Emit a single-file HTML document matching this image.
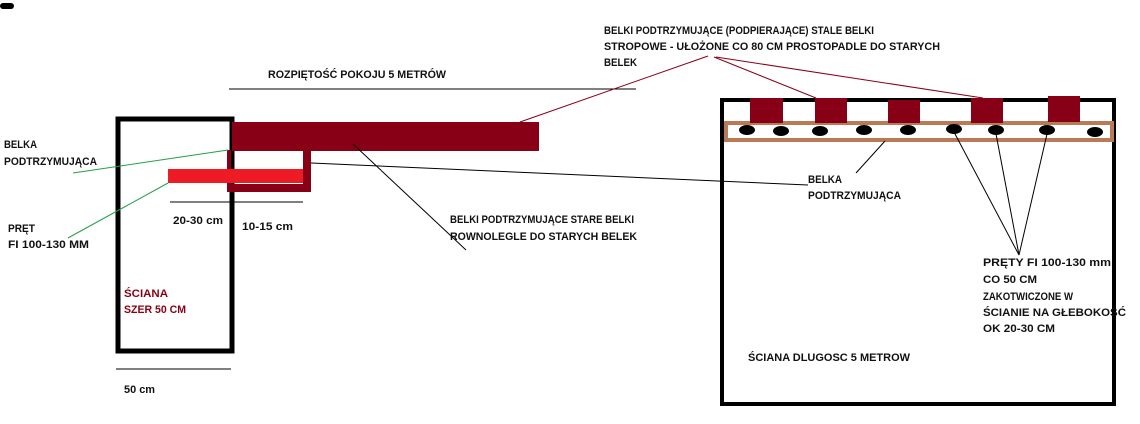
<!DOCTYPE html>
<html><head><meta charset="utf-8"><style>body{margin:0;background:#fff}svg{display:block}text{font-family:"Liberation Sans",sans-serif;font-size:11px;font-weight:bold;fill:#111}</style></head><body>
<svg width="1140" height="424" viewBox="0 0 1140 424" xmlns="http://www.w3.org/2000/svg">
<rect x="0" y="3" width="14" height="6" rx="3" fill="#000"/>
<rect x="118" y="119" width="114" height="232" fill="none" stroke="#000" stroke-width="5"/>
<rect x="232" y="122" width="307" height="29" fill="#880015"/>
<rect x="303" y="150" width="8" height="42" fill="#880015"/>
<rect x="227" y="184" width="84" height="8" fill="#880015"/>
<rect x="227" y="150" width="4" height="42" fill="#880015"/>
<rect x="168" y="169" width="135" height="14" fill="#ed1c24"/>
<line x1="73" y1="173" x2="228" y2="150" stroke="#22a04a" stroke-width="1"/>
<line x1="68" y1="238" x2="168" y2="183" stroke="#22a04a" stroke-width="1"/>
<line x1="170" y1="202" x2="303" y2="202" stroke="#000"/>
<line x1="229" y1="89" x2="636" y2="89" stroke="#000"/>
<line x1="116" y1="369" x2="231" y2="369" stroke="#000"/>
<line x1="311" y1="163" x2="808" y2="185" stroke="#000"/>
<line x1="353" y1="144" x2="466" y2="250" stroke="#000"/>
<line x1="520" y1="122" x2="708" y2="56" stroke="#880015"/>
<line x1="714" y1="57" x2="816" y2="98" stroke="#880015"/>
<line x1="716" y1="57" x2="983" y2="98" stroke="#880015"/>
<rect x="722" y="100" width="392" height="304" fill="none" stroke="#000" stroke-width="4"/>
<rect x="726" y="123" width="386" height="17" fill="none" stroke="#b97a57" stroke-width="4"/>
<g fill="#880015">
<rect x="750" y="98" width="33" height="25"/><rect x="815" y="98" width="32" height="25"/><rect x="888" y="100" width="32" height="23"/><rect x="971" y="98" width="32" height="25"/><rect x="1048" y="96" width="32" height="26"/>
</g>
<g fill="#000">
<ellipse cx="747" cy="130" rx="8" ry="5"/><ellipse cx="781" cy="131" rx="8" ry="5"/><ellipse cx="820" cy="131" rx="8" ry="5"/><ellipse cx="864" cy="130" rx="8" ry="5"/><ellipse cx="908" cy="130" rx="8" ry="5"/><ellipse cx="954" cy="129" rx="8" ry="5"/><ellipse cx="996" cy="130" rx="8" ry="5"/><ellipse cx="1047" cy="130" rx="8" ry="5"/><ellipse cx="1095" cy="132" rx="8" ry="5"/>
</g>
<g stroke="#000">
<line x1="954" y1="132" x2="1019" y2="255"/><line x1="996" y1="134" x2="1019" y2="255"/><line x1="1047" y1="134" x2="1019" y2="255"/><line x1="885" y1="141" x2="856" y2="173"/>
</g>
<g>
<text x="604" y="34" textLength="270" lengthAdjust="spacingAndGlyphs">BELKI PODTRZYMUJĄCE (PODPIERAJĄCE) STALE BELKI</text>
<text x="604" y="50" textLength="336" lengthAdjust="spacingAndGlyphs">STROPOWE - UŁOŻONE CO 80 CM PROSTOPADLE DO STARYCH</text>
<text x="604" y="66" textLength="33" lengthAdjust="spacingAndGlyphs">BELEK</text>
<text x="268" y="78" textLength="178" lengthAdjust="spacingAndGlyphs">ROZPIĘTOŚĆ POKOJU 5 METRÓW</text>
<text x="4" y="148" textLength="33" lengthAdjust="spacingAndGlyphs">BELKA</text>
<text x="4" y="165" textLength="93" lengthAdjust="spacingAndGlyphs">PODTRZYMUJĄCA</text>
<text x="8" y="232" textLength="27" lengthAdjust="spacingAndGlyphs">PRĘT</text>
<text x="8" y="248" textLength="81" lengthAdjust="spacingAndGlyphs">FI 100-130 MM</text>
<text x="173" y="224" textLength="50" lengthAdjust="spacingAndGlyphs">20-30 cm</text>
<text x="242" y="230" textLength="51" lengthAdjust="spacingAndGlyphs">10-15 cm</text>
<text x="450" y="223" textLength="184" lengthAdjust="spacingAndGlyphs">BELKI PODTRZYMUJĄCE STARE BELKI</text>
<text x="450" y="240" textLength="187" lengthAdjust="spacingAndGlyphs">ROWNOLEGLE DO STARYCH BELEK</text>
<text x="124" y="297" textLength="44" lengthAdjust="spacingAndGlyphs" style="fill:#880015">ŚCIANA</text>
<text x="124" y="313" textLength="62" lengthAdjust="spacingAndGlyphs" style="fill:#880015">SZER 50 CM</text>
<text x="124" y="393" textLength="31" lengthAdjust="spacingAndGlyphs">50 cm</text>
<text x="808" y="183" textLength="34" lengthAdjust="spacingAndGlyphs">BELKA</text>
<text x="808" y="199" textLength="93" lengthAdjust="spacingAndGlyphs">PODTRZYMUJĄCA</text>
<text x="983" y="266" textLength="128" lengthAdjust="spacingAndGlyphs">PRĘTY FI 100-130 mm</text>
<text x="983" y="283" textLength="54" lengthAdjust="spacingAndGlyphs">CO 50 CM</text>
<text x="983" y="300" textLength="90" lengthAdjust="spacingAndGlyphs">ZAKOTWICZONE W</text>
<text x="983" y="316" textLength="143" lengthAdjust="spacingAndGlyphs">ŚCIANIE NA GŁEBOKOŚĆ</text>
<text x="983" y="332" textLength="72" lengthAdjust="spacingAndGlyphs">OK 20-30 CM</text>
<text x="748" y="361" textLength="162" lengthAdjust="spacingAndGlyphs">ŚCIANA DLUGOSC 5 METROW</text>
</g>
</svg>
</body></html>
